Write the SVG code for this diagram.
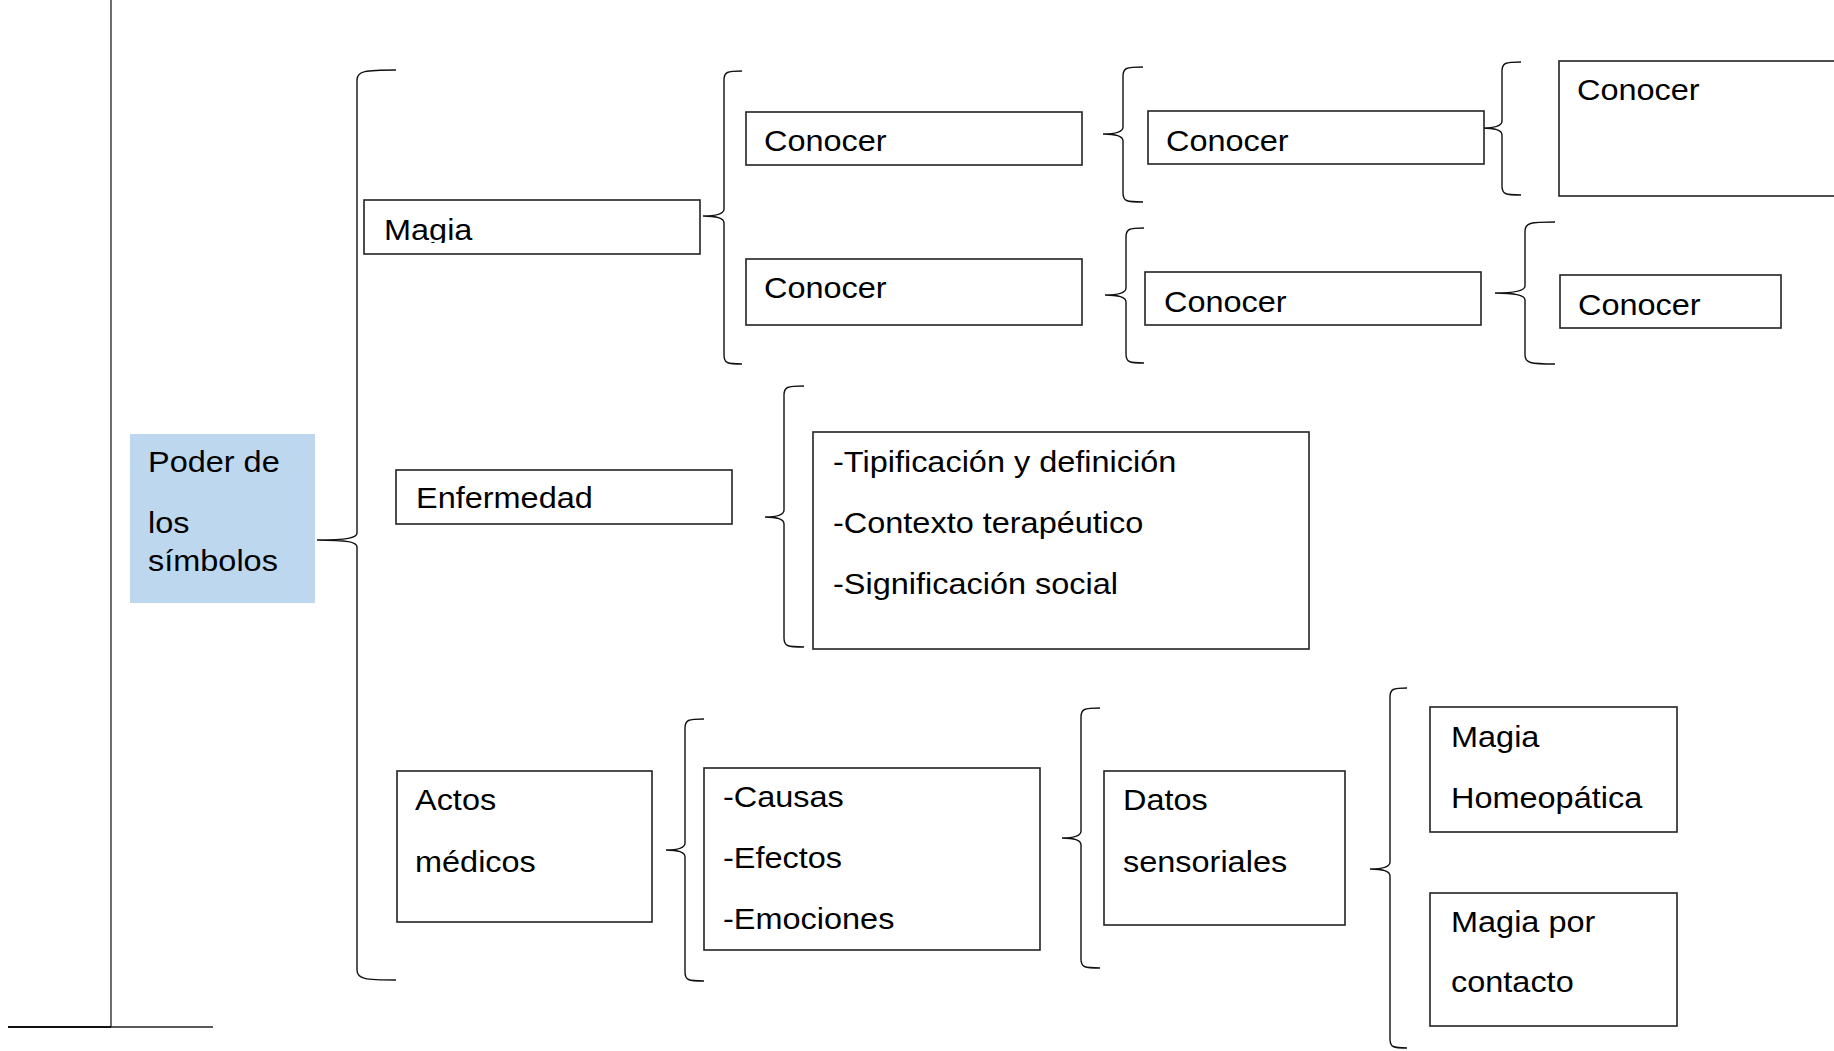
<svg xmlns="http://www.w3.org/2000/svg" width="1834" height="1051" viewBox="0 0 1834 1051">
<style>
.box{fill:#fff;stroke:#222;stroke-width:1.6}
.blue{fill:#BDD7EE;stroke:none}
.br{fill:none;stroke:#111;stroke-width:1.4}
.ln{stroke:#222;stroke-width:1.3}
.t{font-family:"Liberation Sans",Arial,sans-serif;font-size:29px;fill:#000}
</style>
<defs>
<clipPath id="clipMagia"><rect x="364" y="200" width="336" height="43"/></clipPath>
</defs>
<rect width="1834" height="1051" fill="#fff"/>
<g id="frame">
<line class="ln" x1="111" y1="0" x2="111" y2="1027"/>
<line x1="8" y1="1027" x2="111" y2="1027" stroke="#111" stroke-width="2.2"/>
<line class="ln" x1="111" y1="1027" x2="213" y2="1027"/>
</g>
<g id="connectors">
<path class="br" d="M396,70 C365,70 357,71 357,80 L357,533 C357,538 347,540 317,540 C347,540 357,542 357,547 L357,970 C357,979 365,980 396,980"/>
<path class="br" d="M742,71 C727,71 724,72 724,80 L724,209 C724,214 716,216 703,216 C716,216 724,218 724,223 L724,355 C724,363 727,364 742,364"/>
<path class="br" d="M1143,67 C1126,67 1123,68 1123,76 L1123,127 C1123,132 1115,134 1103,134 C1115,134 1123,136 1123,141 L1123,193 C1123,201 1126,202 1143,202"/>
<path class="br" d="M1144,228 C1129,228 1126,229 1126,237 L1126,288 C1126,293 1118,295 1105,295 C1118,295 1126,297 1126,302 L1126,354 C1126,362 1129,363 1144,363"/>
<path class="br" d="M1521,62 C1505,62 1502,63 1502,71 L1502,121 C1502,126 1494,128 1482,128 C1494,128 1502,130 1502,135 L1502,186 C1502,194 1505,195 1521,195"/>
<path class="br" d="M1555,222 C1530,222 1525,223 1525,231 L1525,286 C1525,291 1515,293 1495,293 C1515,293 1525,295 1525,300 L1525,355 C1525,363 1530,364 1555,364"/>
<path class="br" d="M804,386 C787,386 784,387 784,395 L784,510 C784,515 776,517 765,517 C776,517 784,519 784,524 L784,638 C784,646 787,647 804,647"/>
<path class="br" d="M704,719 C688,719 685,720 685,728 L685,843 C685,848 677,850 666,850 C677,850 685,852 685,857 L685,972 C685,980 688,981 704,981"/>
<path class="br" d="M1100,708 C1084,708 1081,709 1081,717 L1081,831 C1081,836 1073,838 1062,838 C1073,838 1081,840 1081,845 L1081,959 C1081,967 1084,968 1100,968"/>
<path class="br" d="M1407,688 C1393,688 1390,689 1390,697 L1390,862 C1390,867 1382,869 1370,869 C1382,869 1390,871 1390,876 L1390,1039 C1390,1047 1393,1048 1407,1048"/>
</g>
<g id="poder">
<rect class="blue" x="130" y="434" width="185" height="169"/>
<text class="t" transform="matrix(1.12 0 0 1 148 472)"><tspan x="0" y="0">Poder de</tspan><tspan x="0" y="61">los</tspan><tspan x="0" y="99">símbolos</tspan></text>
</g>
<g id="magia">
<rect class="box" x="364" y="200" width="336" height="54"/>
<g clip-path="url(#clipMagia)"><text class="t" transform="matrix(1.12 0 0 1 384 240)">Magia</text></g>
</g>
<g id="enfermedad">
<rect class="box" x="396" y="470" width="336" height="54"/>
<text class="t" transform="matrix(1.12 0 0 1 416 508)">Enfermedad</text>
</g>
<g id="actos">
<rect class="box" x="397" y="771" width="255" height="151"/>
<text class="t" transform="matrix(1.12 0 0 1 415 810)"><tspan x="0" y="0">Actos</tspan><tspan x="0" y="62">médicos</tspan></text>
</g>
<g id="conocer1">
<rect class="box" x="746" y="112" width="336" height="53"/>
<text class="t" transform="matrix(1.12 0 0 1 764 151)">Conocer</text>
</g>
<g id="conocer2">
<rect class="box" x="746" y="259" width="336" height="66"/>
<text class="t" transform="matrix(1.12 0 0 1 764 298)">Conocer</text>
</g>
<g id="conocer3">
<rect class="box" x="1148" y="111" width="336" height="53"/>
<text class="t" transform="matrix(1.12 0 0 1 1166 151)">Conocer</text>
</g>
<g id="conocer4">
<rect class="box" x="1145" y="272" width="336" height="53"/>
<text class="t" transform="matrix(1.12 0 0 1 1164 312)">Conocer</text>
</g>
<g id="conocer5">
<rect class="box" x="1559" y="61" width="300" height="135"/>
<text class="t" transform="matrix(1.12 0 0 1 1577 100)">Conocer</text>
</g>
<g id="conocer6">
<rect class="box" x="1560" y="275" width="221" height="53"/>
<text class="t" transform="matrix(1.12 0 0 1 1578 315)">Conocer</text>
</g>
<g id="enfermedad-detalle">
<rect class="box" x="813" y="432" width="496" height="217"/>
<text class="t" transform="matrix(1.12 0 0 1 833 472)"><tspan x="0" y="0">-Tipificación y definición</tspan><tspan x="0" y="61">-Contexto terapéutico</tspan><tspan x="0" y="122">-Significación social</tspan></text>
</g>
<g id="causas">
<rect class="box" x="704" y="768" width="336" height="182"/>
<text class="t" transform="matrix(1.12 0 0 1 723 807)"><tspan x="0" y="0">-Causas</tspan><tspan x="0" y="61">-Efectos</tspan><tspan x="0" y="122">-Emociones</tspan></text>
</g>
<g id="datos">
<rect class="box" x="1104" y="771" width="241" height="154"/>
<text class="t" transform="matrix(1.12 0 0 1 1123 810)"><tspan x="0" y="0">Datos</tspan><tspan x="0" y="62">sensoriales</tspan></text>
</g>
<g id="magia-homeopatica">
<rect class="box" x="1430" y="707" width="247" height="125"/>
<text class="t" transform="matrix(1.12 0 0 1 1451 747)"><tspan x="0" y="0">Magia</tspan><tspan x="0" y="61">Homeopática</tspan></text>
</g>
<g id="magia-contacto">
<rect class="box" x="1430" y="893" width="247" height="133"/>
<text class="t" transform="matrix(1.12 0 0 1 1451 932)"><tspan x="0" y="0">Magia por</tspan><tspan x="0" y="60">contacto</tspan></text>
</g>
</svg>
